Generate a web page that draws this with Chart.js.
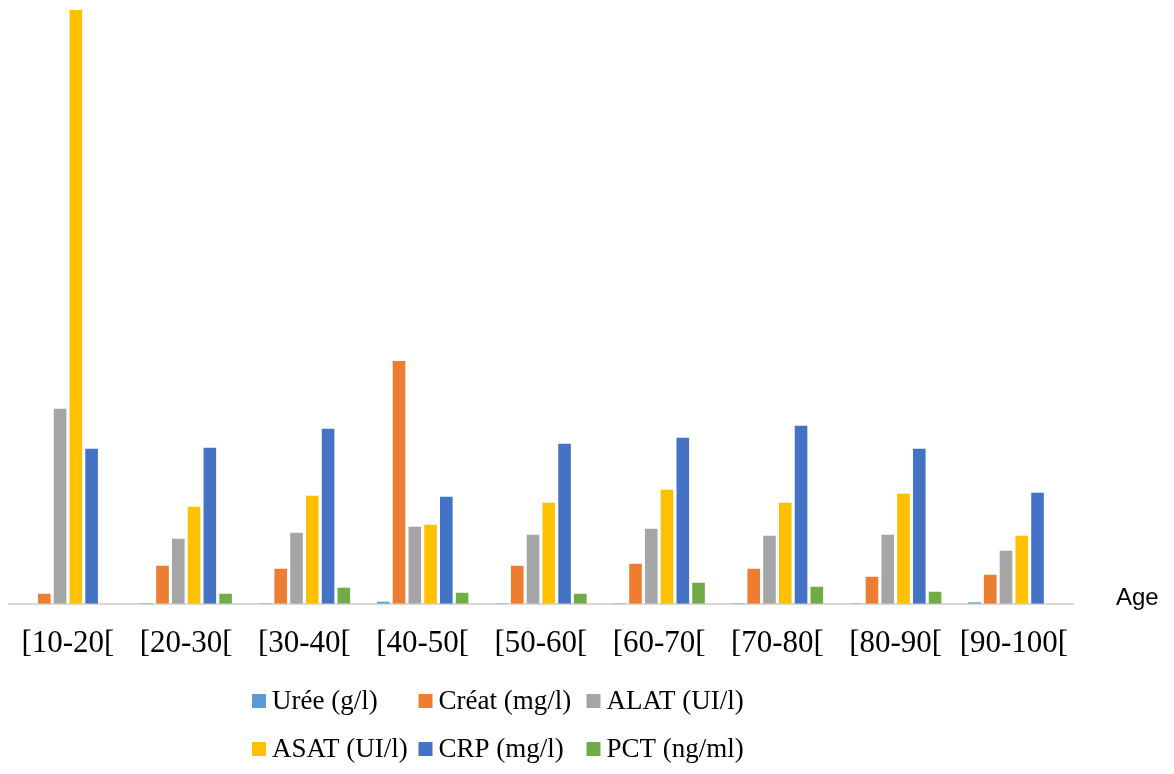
<!DOCTYPE html>
<html>
<head>
<meta charset="utf-8">
<script src="https://cdn.jsdelivr.net/npm/chart.js@4"></script>
<style>
  body { margin: 0; background: #fff; }
  #wrap { width: 1174px; height: 774px; position: relative; }
</style>
</head>
<body>
<div id="wrap"><canvas id="chart"></canvas></div>
<script>
// Data (relative heights)
const categories = ['[10-20[', '[20-30[', '[30-40[', '[40-50[', '[50-60[', '[60-70[', '[70-80[', '[80-90[', '[90-100['];
const uree  = [0, 0.5, 0.5, 2, 0.5, 0.5, 0.5, 0.5, 1.5];
const creat = [10, 38, 35, 243, 38, 40, 35, 27, 29];
const alat  = [195, 65, 71, 77, 69, 75, 68, 69, 53];
const asat  = [594, 97, 108, 79, 101, 114, 101, 110, 68];
const crp   = [155, 156, 175, 107, 160, 166, 178, 155, 111];
const pct   = [0, 10, 16, 11, 10, 21, 17, 12, 0];

const seriesLabels = ['Urée (g/l)', 'Créat (mg/l)', 'ALAT (UI/l)', 'ASAT (UI/l)', 'CRP (mg/l)', 'PCT (ng/ml)'];
const seriesColors = ['#5B9BD5', '#ED7D31', '#A5A5A5', '#FFC000', '#4472C4', '#70AD47'];
const seriesData = [uree, creat, alat, asat, crp, pct];

// Legend laid out in a fixed grid, plus the "Age" axis title
const extrasPlugin = {
    id: 'extras',
    afterDraw(chart) {
        const ctx = chart.ctx;
        ctx.save();
        ctx.fillStyle = '#000';
        ctx.font = '24px "Liberation Sans", Arial, sans-serif';
        ctx.textBaseline = 'alphabetic';
        ctx.fillText('Age', 1116, 605);

        const cols = [252, 418.5, 586.5];
        const rows = [709, 757];
        ctx.font = '27px "Liberation Serif", "Times New Roman", serif';
        chart.data.datasets.forEach((ds, i) => {
            const x = cols[i % 3];
            const y = rows[Math.floor(i / 3)];
            ctx.fillStyle = ds.backgroundColor;
            ctx.fillRect(x, y - 15, 14, 14);
            ctx.fillStyle = '#000';
            ctx.fillText(ds.label, x + 20, y);
        });
        ctx.restore();
    }
};

new Chart(document.getElementById('chart'), {
    type: 'bar',
    data: {
        labels: categories,
        datasets: seriesLabels.map((label, i) => ({
            label: label,
            data: seriesData[i],
            backgroundColor: seriesColors[i],
            categoryPercentage: 0.8,
            barPercentage: 0.8
        }))
    },
    options: {
        responsive: true,
        maintainAspectRatio: false,
        animation: false,
        layout: {
            padding: { left: 8, right: 101, top: 4, bottom: 91 }
        },
        plugins: {
            legend: { display: false },
            tooltip: { enabled: false }
        },
        scales: {
            x: {
                grid: { display: false, drawTicks: false },
                border: { display: true, color: '#d9d9d9', width: 2 },
                ticks: {
                    color: '#000',
                    padding: 21,
                    maxRotation: 0,
                    autoSkip: false,
                    font: { family: '"Liberation Serif", "Times New Roman", serif', size: 31 }
                }
            },
            y: {
                display: false,
                min: 0,
                max: 600
            }
        }
    },
    plugins: [extrasPlugin]
});
</script>
</body>
</html>
